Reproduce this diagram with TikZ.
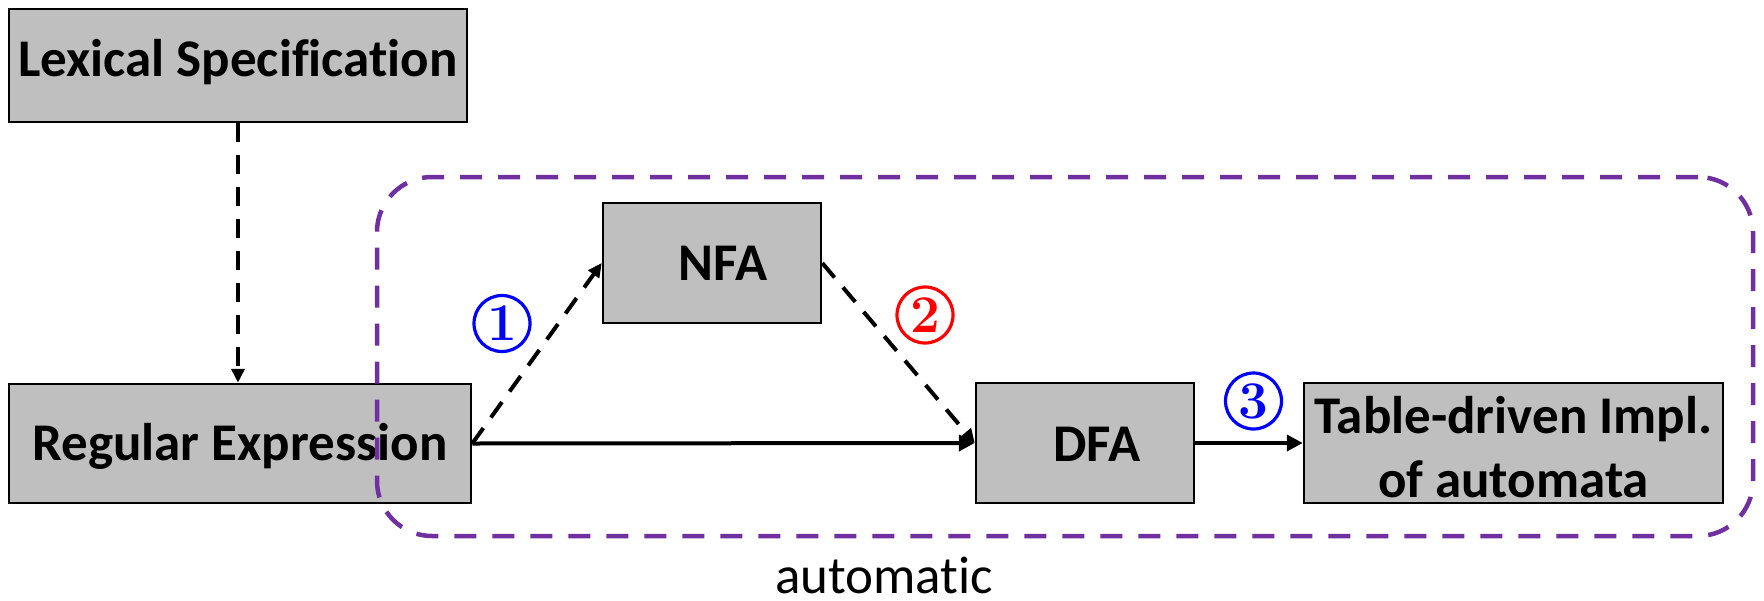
\documentclass[tikz,border=0pt]{standalone}
\usepackage{fontspec}
\newfontfamily\calibri[Ligatures=NoCommon]{Carlito}
\usetikzlibrary{arrows.meta}
\definecolor{boxgray}{HTML}{BFBFBF}
\definecolor{autopurple}{HTML}{7030A0}
\begin{document}
\begin{tikzpicture}[x=1pt,y=-1pt,
  stage/.style={draw=black, line width=2.5pt, fill=boxgray, inner sep=0pt,
    text depth=0pt, font=\calibri\bfseries\fontsize{53}{64}\selectfont},
  flowdash/.style={line width=4pt, dash pattern=on 19pt off 13pt,
    -{Triangle[length=14pt,width=13pt]}},
  flowsolid/.style={line width=4pt, -{Triangle[length=16pt,width=16pt]}},
  stepnum/.style={circle, line width=3.2pt, minimum size=56pt, inner sep=0pt,
    font=\bfseries\fontsize{53}{53}\selectfont},
]
\useasboundingbox (0,0) rectangle (1764,600);

% processing stages
\node[stage, minimum width=458pt, minimum height=113pt, text height=21pt]
  (lex) at (238,65.5) {Lexical Specification};
\node[stage, minimum width=462pt, minimum height=119pt, text height=33pt]
  (reg) at (240,443.5) {Regular Expression};
\node[stage, minimum width=218pt, minimum height=120pt, text height=34pt]
  (nfa) at (712,263) {\hspace*{22pt}NFA};
\node[stage, minimum width=218pt, minimum height=120pt, text height=37pt]
  (dfa) at (1085,443) {\hspace*{24pt}DFA};
\node[stage, minimum width=419pt, minimum height=120pt, text height=30pt, text depth=50pt]
  (tab) at (1513.5,443)
  {\begin{tabular}[t]{@{}c@{}}Table-driven Impl.\\of automata\end{tabular}};

% the automatic part of the pipeline
\node[draw=autopurple, line width=4.5pt, dash pattern=on 22pt off 16pt,
  rounded corners=55pt, minimum width=1376pt, minimum height=359pt, inner sep=0pt]
  (autobox) at (1065,356.5) {};
\node[font=\calibri\fontsize{53}{60}\selectfont, anchor=base, inner sep=0pt]
  (autolabel) at (884,593) {automatic};

% connectors
\draw[flowdash] (lex.south) -- (lex.south |- reg.north);
\draw[flowdash] (reg.east) -- (nfa.west);
\draw[flowdash] (nfa.east) -- (dfa.west);
\draw[flowsolid] (reg.east) -- (dfa.west);
\draw[flowsolid] (dfa.east) -- (tab.west);

% step numbers
\node[stepnum, draw=blue, text=blue] (n1) at (502,323.5) {1};
\node[stepnum, draw=red, text=red] (n2) at (925,315) {2};
\node[stepnum, draw=blue, text=blue] (n3) at (1253.5,401) {3};
\end{tikzpicture}
\end{document}
